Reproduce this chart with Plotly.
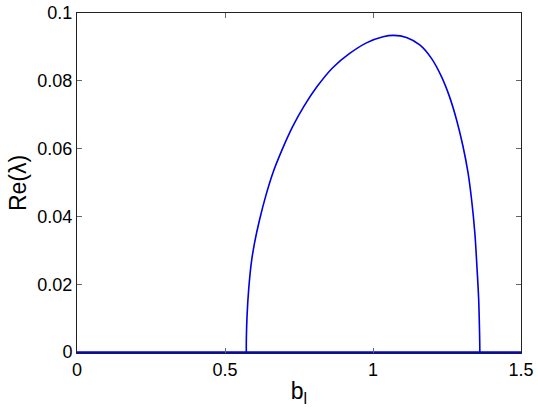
import plotly.graph_objects as go

# Data
b_l = [0.572, 0.5722, 0.5745, 0.580, 0.589, 0.600, 0.617, 0.6375, 0.662, 0.693,
       0.728, 0.766, 0.811, 0.863, 0.920, 0.978, 1.034, 1.070, 1.113, 1.158,
       1.197, 1.231, 1.259, 1.282, 1.304, 1.321, 1.333, 1.344, 1.351, 1.357,
       1.360, 1.361]
re_lambda = [0.0, 0.004, 0.0107, 0.0185, 0.0264, 0.0323, 0.0391, 0.0460, 0.0529, 0.0597,
             0.0664, 0.0724, 0.0783, 0.0838, 0.0880, 0.0912, 0.0930, 0.0934, 0.0928, 0.0906,
             0.0867, 0.0813, 0.0752, 0.0686, 0.0607, 0.0529, 0.0450, 0.0352, 0.0254, 0.0156,
             0.0058, 0.0]
# stable region: Re(lambda) = 0
b_l_zero = [0.0, 1.5]
re_lambda_zero = [0.0, 0.0]

x_ticks = [0, 0.5, 1, 1.5]
x_tick_labels = ["0", "0.5", "1", "1.5"]
y_ticks = [0, 0.02, 0.04, 0.06, 0.08, 0.1]
y_tick_labels = ["0", "0.02", "0.04", "0.06", "0.08", "0.1"]

line_color = "#0000e6"
fig = go.Figure()
fig.add_trace(go.Scatter(x=b_l_zero, y=re_lambda_zero, mode="lines",
                         line=dict(color=line_color, width=1.8),
                         showlegend=False, hoverinfo="skip"))
fig.add_trace(go.Scatter(x=b_l, y=re_lambda, mode="lines",
                         line=dict(color=line_color, width=1.6, shape="spline", smoothing=1.0),
                         showlegend=False, hoverinfo="skip"))

font_family = "Liberation Sans, Arial, Helvetica, sans-serif"
axis_common = dict(showline=True, mirror="ticks", linecolor="#222", linewidth=1,
                   ticks="inside", ticklen=5, tickcolor="#666", tickwidth=1,
                   showgrid=False, zeroline=False, automargin=False,
                   tickfont=dict(family=font_family, size=18, color="black"))

fig.update_layout(
    width=538, height=414,
    margin=dict(l=77, r=17, t=13, b=61),
    paper_bgcolor="white", plot_bgcolor="white",
    font=dict(family=font_family, color="black"),
    xaxis=dict(range=[0, 1.5], tickvals=x_ticks, ticktext=x_tick_labels,
               title=dict(text="b<sub>l</sub>", font=dict(size=23), standoff=4),
               **axis_common),
    yaxis=dict(range=[-0.00025, 0.1], tickvals=y_ticks, ticktext=y_tick_labels,
               title=dict(text="Re(λ)", font=dict(size=23), standoff=4),
               **axis_common),
)

fig.write_html("out.html", config={"displayModeBar": False},
               post_script="document.body.style.margin='0';document.body.style.padding='0';")
